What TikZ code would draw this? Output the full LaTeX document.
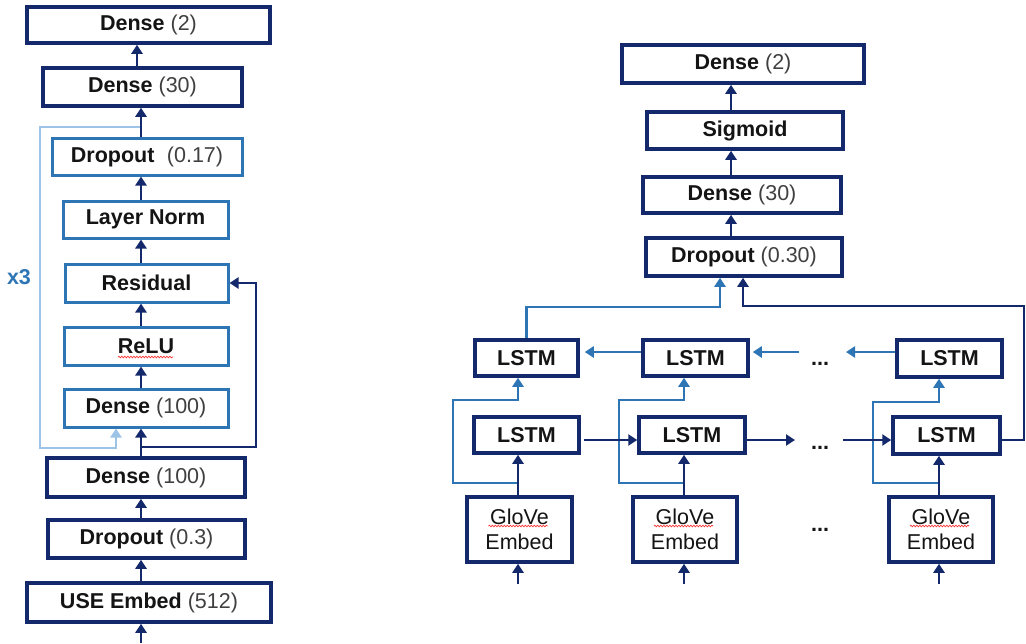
\documentclass[tikz,border=0pt]{standalone}
\usepackage{fontspec}
\setmainfont{Liberation Sans}
\usetikzlibrary{arrows.meta,decorations.pathmorphing}
\definecolor{navy}{HTML}{13296B}
\definecolor{midblue}{HTML}{2E75B6}
\definecolor{lightblue}{HTML}{9DC3E6}
\definecolor{numgray}{HTML}{404040}
\definecolor{txt}{HTML}{141414}
\newcommand{\lbl}[2]{\textbf{#1} {\color{numgray}(#2)}}
\begin{document}
\begin{tikzpicture}[x=1pt,y=-1pt,
  box/.style={draw=navy, line width=3.5pt, fill=white, inner sep=0pt, text=txt,
              font=\fontsize{21.5}{25}\selectfont, align=center},
  ibox/.style={box, draw=midblue, line width=3pt},
  arr/.style={draw=navy, line width=2.3pt, -{Triangle[width=11pt,length=9pt]}},
  barr/.style={arr, draw=midblue},
  larr/.style={arr, draw=lightblue},
  dots/.style={anchor=base, text=txt, font=\bfseries\fontsize{21.5}{25}\selectfont},
  squig/.style={draw=red!80, line width=0.7pt, decorate,
                decoration={snake, amplitude=0.8pt, segment length=3pt}},
]
\useasboundingbox (0,0) rectangle (1026,643);
\fill[white] (0,0) rectangle (1026,643);

% ---------------- left column ----------------
\node[box,  minimum width=243, minimum height=36] (ld2)    at (148.5,25)   {\lbl{Dense}{2}};
\node[box,  minimum width=199, minimum height=38] (ld30)   at (142.5,87)   {\lbl{Dense}{30}};
\node[ibox, minimum width=190, minimum height=37] (ldo)    at (147,156.5)  {\textbf{Dropout}\hspace{0.3em} {\color{numgray}(0.17)}};
\node[ibox, minimum width=165, minimum height=37] (lln)    at (145.5,219.5){\textbf{Layer Norm}};
\node[ibox, minimum width=163, minimum height=38] (lres)   at (146.5,283)  {\textbf{Residual}};
\node[ibox, minimum width=164, minimum height=38] (lrelu)  at (146,346)    {\textbf{ReLU}};
\node[ibox, minimum width=164, minimum height=38] (ld100i) at (146,408)    {\lbl{Dense}{100}};
\node[box,  minimum width=198, minimum height=39] (ld100o) at (146,477.5)  {\lbl{Dense}{100}};
\node[box,  minimum width=197, minimum height=38] (ldo3)   at (146.5,539)  {\lbl{Dropout}{0.3}};
\node[box,  minimum width=244, minimum height=39] (luse)   at (149,602.5)  {\lbl{USE Embed}{512}};

\node[text=midblue, font=\bfseries\fontsize{21.5}{25}\selectfont] (x3) at (19,277) {x3};

\coordinate (lx) at (141,0);
\coordinate (lx2) at (137,0);
\coordinate (lin) at (141,643);
\coordinate (lt) at (141,127);
\coordinate (lb) at (116,448);
\coordinate (rs) at (141,447);
\coordinate (rsR) at (256,447);

% light blue x3 loop
\draw[larr] (lt) -- (40,127) -- (40,448) -- (lb) -- (lb |- ld100i.south);

\draw[arr] (lin) -- (lin |- luse.south);
\draw[arr] (luse.north -| lx) -- (ldo3.south -| lx);
\draw[arr] (ldo3.north -| lx) -- (ld100o.south -| lx);
\draw[arr] (ld100o.north -| lx) -- (ld100i.south -| lx);
\draw[arr] (ld100i.north -| lx) -- (lrelu.south -| lx);
\draw[arr] (lrelu.north -| lx) -- (lres.south -| lx);
\draw[arr] (lres.north -| lx) -- (lln.south -| lx);
\draw[arr] (lln.north -| lx) -- (ldo.south -| lx);
\draw[arr] (ldo.north -| lx) -- (ld30.south -| lx);
\draw[arr] (ld30.north -| lx2) -- (ld2.south -| lx2);
% residual skip
\draw[arr] (rs) -- (rsR) |- (lres.east);

\draw[squig] (118,357) -- (173,357);

% ---------------- right column ----------------
\node[box, minimum width=242, minimum height=38] (rd2)  at (743,64)    {\lbl{Dense}{2}};
\node[box, minimum width=196, minimum height=37] (rsig) at (745,130.5) {\textbf{Sigmoid}};
\node[box, minimum width=198, minimum height=36] (rd30) at (742,195)   {\lbl{Dense}{30}};
\node[box, minimum width=196, minimum height=38] (rdo)  at (744,257)   {\lbl{Dropout}{0.30}};

\coordinate (rx) at (731,0);
\draw[arr] (rdo.north -| rx) -- (rd30.south -| rx);
\draw[arr] (rd30.north -| rx) -- (rsig.south -| rx);
\draw[arr] (rsig.north -| rx) -- (rd2.south -| rx);

% LSTM grid
\node[box, minimum width=103, minimum height=36] (t1) at (526.5,358)   {\textbf{LSTM}};
\node[box, minimum width=105, minimum height=36] (t2) at (695.5,358)   {\textbf{LSTM}};
\node[box, minimum width=105, minimum height=37] (t3) at (949.5,358.5) {\textbf{LSTM}};
\node[box, minimum width=105, minimum height=36] (b1) at (526.5,435)   {\textbf{LSTM}};
\node[box, minimum width=106, minimum height=36] (b2) at (692,435)     {\textbf{LSTM}};
\node[box, minimum width=107, minimum height=37] (b3) at (946.5,435.5) {\textbf{LSTM}};
\node[box, minimum width=105, minimum height=65] (g1) at (519.5,529.5) {GloVe\\Embed};
\node[box, minimum width=104, minimum height=65] (g2) at (685,529.5)   {GloVe\\Embed};
\node[box, minimum width=104, minimum height=65] (g3) at (941,529.5)   {GloVe\\Embed};

\node[dots] (dt) at (820,365) {...};
\node[dots] (db) at (820,449) {...};
\node[dots] (dg) at (820,531) {...};

% inputs and vertical arrows
\coordinate (in1) at (518,584);
\coordinate (in2) at (684,584);
\coordinate (in3) at (939,584);
\draw[arr] (in1) -- (in1 |- g1.south);
\draw[arr] (in2) -- (in2 |- g2.south);
\draw[arr] (in3) -- (in3 |- g3.south);

\coordinate (s1) at (518,483);
\coordinate (s2) at (684,483);
\coordinate (s3) at (939,483);
\draw[barr] (s1) -- ++(-65,0) -- ++(0,-83) -- ++(65,0) -- (s1 |- t1.south);
\draw[barr] (s2) -- ++(-65,0) -- ++(0,-83) -- ++(65,0) -- (s2 |- t2.south);
\draw[barr] (s3) -- ++(-66,0) -- ++(0,-81) -- ++(66,0) -- (s3 |- t3.south);

\draw[arr] (g1.north -| in1) -- (b1.south -| in1);
\draw[arr] (g2.north -| in2) -- (b2.south -| in2);
\draw[arr] (g3.north -| in3) -- (b3.south -| in3);

% top (backward) row
\coordinate (yT) at (0,352);
\coordinate (tdL) at (799,352);
\coordinate (tdR) at (846,352);
\draw[barr, shorten >=5pt] (t2.west |- yT) -- (t1.east |- yT);
\draw[barr, shorten >=3pt] (tdL) -- (t2.east |- yT);
\draw[barr] (t3.west |- yT) -- (tdR);

% bottom (forward) row
\coordinate (yB) at (0,440);
\coordinate (bdL) at (795,440);
\coordinate (bdR) at (843,440);
\draw[arr, shorten <=3pt] (b1.east |- yB) -- (b2.west |- yB);
\draw[arr] (b2.east |- yB) -- (bdL);
\draw[arr] (bdR) -- (b3.west |- yB);

% outputs into dropout
\coordinate (tb) at (720,307);
\draw[barr] (t1.north) |- (tb) -- (tb |- rdo.south);
\coordinate (fb1) at (1024,440);
\coordinate (fb2) at (1024,306);
\coordinate (fb3) at (743,306);
\draw[arr] (b3.east |- yB) -- (fb1) -- (fb2) -- (fb3) -- (fb3 |- rdo.south);

% spell-check squiggles
\draw[squig] (488.5,526) -- (547.5,526);
\draw[squig] (654,526) -- (713,526);
\draw[squig] (910,526) -- (969,526);
\end{tikzpicture}
\end{document}
